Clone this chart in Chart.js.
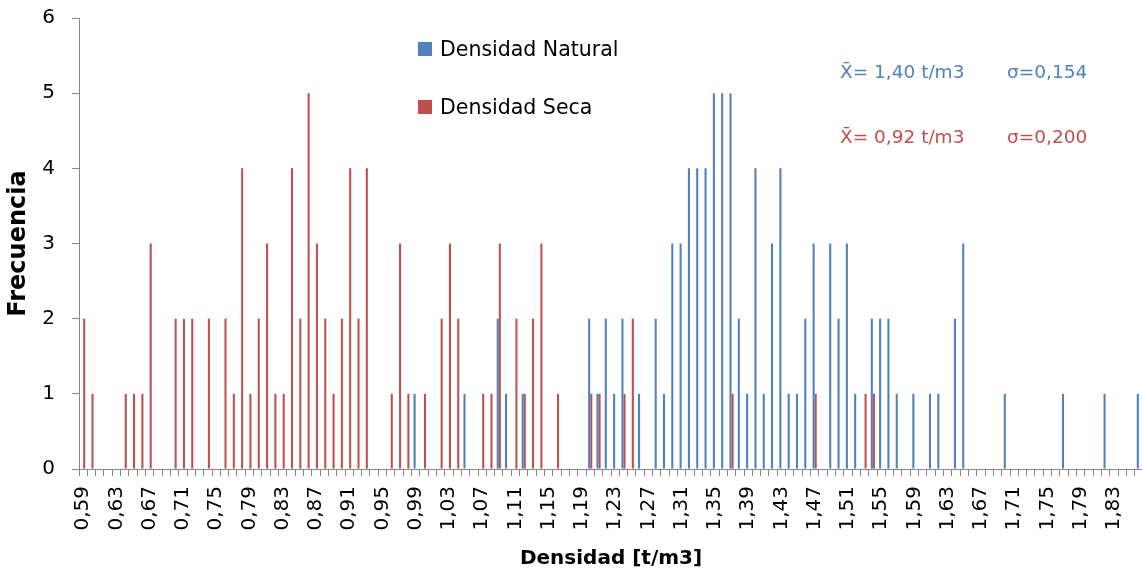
<!DOCTYPE html>
<html>
<head>
<meta charset="utf-8">
<script src="https://cdn.jsdelivr.net/npm/chart.js@4.4.1/dist/chart.umd.min.js"></script>
<style>
  html, body { margin: 0; padding: 0; background: #fff; overflow: hidden; }
  #wrap { width: 1150px; height: 576px; }
</style>
</head>
<body>
<div id="wrap"><canvas id="myChart" width="1150" height="576"></canvas></div>
<script>
// density classes (t/m3), one bar pair per class
const categories = [
  '0,59','0,60','0,61','0,62','0,63','0,64','0,65','0,66','0,67','0,68',
  '0,69','0,70','0,71','0,72','0,73','0,74','0,75','0,76','0,77','0,78',
  '0,79','0,80','0,81','0,82','0,83','0,84','0,85','0,86','0,87','0,88',
  '0,89','0,90','0,91','0,92','0,93','0,94','0,95','0,96','0,97','0,98',
  '0,99','1,00','1,01','1,02','1,03','1,04','1,05','1,06','1,07','1,08',
  '1,09','1,10','1,11','1,12','1,13','1,14','1,15','1,16','1,17','1,18',
  '1,19','1,20','1,21','1,22','1,23','1,24','1,25','1,26','1,27','1,28',
  '1,29','1,30','1,31','1,32','1,33','1,34','1,35','1,36','1,37','1,38',
  '1,39','1,40','1,41','1,42','1,43','1,44','1,45','1,46','1,47','1,48',
  '1,49','1,50','1,51','1,52','1,53','1,54','1,55','1,56','1,57','1,58',
  '1,59','1,60','1,61','1,62','1,63','1,64','1,65','1,66','1,67','1,68',
  '1,69','1,70','1,71','1,72','1,73','1,74','1,75','1,76','1,77','1,78',
  '1,79','1,80','1,81','1,82','1,83','1,84','1,85','1,86'
];

const natural = [
  0,0,0,0,0,0,0,0,0,0,
  0,0,0,0,0,0,0,0,0,0,
  0,0,0,0,0,0,0,0,0,0,
  0,0,0,0,0,0,0,0,0,0,
  1,0,0,0,0,0,1,0,0,0,
  2,1,0,1,0,0,0,0,0,0,
  0,2,1,2,1,2,0,1,0,2,
  1,3,3,4,4,4,5,5,5,2,
  1,4,1,3,4,1,1,2,3,0,
  3,2,3,1,0,2,2,2,1,0,
  1,0,1,1,0,2,3,0,0,0,
  0,1,0,0,0,0,0,0,1,0,
  0,0,0,1,0,0,0,1
];

const seca = [
  2,1,0,0,0,1,1,1,3,0,
  0,2,2,2,0,2,0,2,1,4,
  1,2,3,1,1,4,2,5,3,2,
  1,2,4,2,4,0,0,1,3,1,
  0,1,0,2,3,2,0,0,1,1,
  3,0,2,1,2,3,0,1,0,0,
  0,1,1,0,0,1,2,0,0,0,
  0,0,0,0,0,0,0,0,1,0,
  0,0,0,0,0,0,0,0,1,0,
  0,0,0,0,1,1,0,0,0,0,
  0,0,0,0,0,0,0,0,0,0,
  0,0,0,0,0,0,0,0,0,0,
  0,0,0,0,0,0,0,0
];

// only every fourth class gets a label on the axis
const shownLabels = [
  '0,59','0,63','0,67','0,71','0,75','0,79','0,83','0,87','0,91','0,95',
  '0,99','1,03','1,07','1,11','1,15','1,19','1,23','1,27','1,31','1,35',
  '1,39','1,43','1,47','1,51','1,55','1,59','1,63','1,67','1,71','1,75',
  '1,79','1,83'
];

const BLUE = '#4F81BD';
const RED = '#C0504D';
const AXIS = '#868686';
const FONT = '"DejaVu Sans", sans-serif';

// legend and the mean / std. deviation notes
const notes = {
  id: 'notes',
  afterDraw(chart) {
    const c = chart.ctx;
    c.save();
    c.textBaseline = 'alphabetic';
    c.textAlign = 'left';
    c.font = '20.5px ' + FONT;
    c.fillStyle = BLUE;
    c.fillRect(418, 42, 14, 14);
    c.fillStyle = RED;
    c.fillRect(418, 100, 14, 14);
    c.fillStyle = '#000';
    c.fillText('Densidad Natural', 440, 56);
    c.fillText('Densidad Seca', 440, 114);

    c.font = '18.5px ' + FONT;
    c.fillStyle = BLUE;
    c.fillText('X\u0304= 1,40 t/m3', 840, 78);
    c.fillText('\u03C3=0,154', 1007, 78);
    c.fillStyle = RED;
    c.fillText('X\u0304= 0,92 t/m3', 840, 143);
    c.fillText('\u03C3=0,200', 1007, 143);
    c.restore();
  }
};

const ctx = document.getElementById('myChart');

new Chart(ctx, {
  type: 'bar',
  data: {
    labels: categories,
    datasets: [{
      label: 'Densidad Natural',
      data: natural,
      backgroundColor: BLUE,
      categoryPercentage: 0.5,
      barPercentage: 1.0
    }, {
      label: 'Densidad Seca',
      data: seca,
      backgroundColor: RED,
      categoryPercentage: 0.5,
      barPercentage: 1.0
    }]
  },
  options: {
    responsive: false,
    animation: false,
    layout: { padding: { top: 18, right: 7, left: 0, bottom: 0 } },
    plugins: {
      legend: { display: false },
      tooltip: { enabled: false }
    },
    scales: {
      x: {
        border: { color: AXIS, width: 1 },
        grid: {
          offset: true,
          drawOnChartArea: false,
          drawTicks: true,
          tickLength: 7,
          color: AXIS
        },
        ticks: {
          autoSkip: false,
          minRotation: 90,
          maxRotation: 90,
          padding: 10,
          color: '#000',
          font: { family: FONT, size: 20 },
          callback: function (v, i) {
            const lab = categories[i];
            return shownLabels.includes(lab) ? lab : '';
          }
        },
        title: {
          display: true,
          text: 'Densidad [t/m3]',
          color: '#000',
          font: { family: FONT, size: 20, weight: 'bold' },
          padding: { top: 0, bottom: 5 }
        },
        afterFit: function (s) {
          s.height = 107;
          s.paddingLeft = 0;
          s.paddingRight = 0;
        }
      },
      y: {
        min: 0,
        max: 6,
        border: { color: AXIS, width: 1 },
        grid: {
          drawOnChartArea: false,
          drawTicks: true,
          tickLength: 7,
          color: AXIS
        },
        ticks: {
          stepSize: 1,
          padding: 17,
          color: '#000',
          font: { family: FONT, size: 20 }
        },
        title: {
          display: true,
          text: 'Frecuencia',
          color: '#000',
          font: { family: FONT, size: 24, weight: 'bold' },
          padding: { top: 4, bottom: 0 }
        },
        afterFit: function (s) {
          s.width = 79;
          s.paddingTop = 0;
          s.paddingBottom = 0;
        }
      }
    }
  },
  plugins: [notes]
});
</script>
</body>
</html>
